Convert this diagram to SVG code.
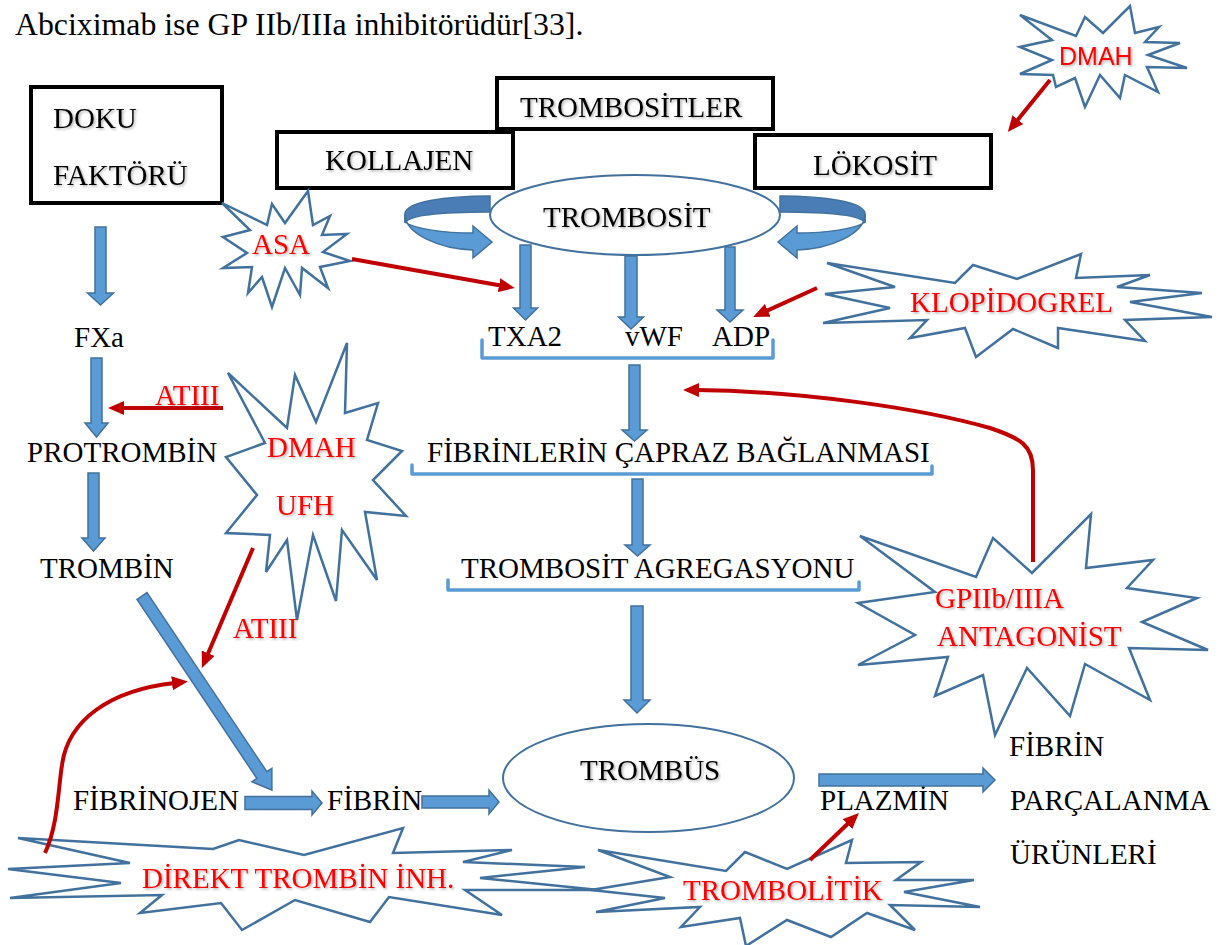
<svg xmlns="http://www.w3.org/2000/svg" width="1224" height="945" viewBox="0 0 1224 945">
  <style>
    .box { fill: #ffffff; stroke: #000000; stroke-width: 4; }
    .oval { fill: #ffffff; stroke: #41719C; stroke-width: 2; }
    .star { fill: #ffffff; stroke: #41719C; stroke-width: 2.5; stroke-linejoin: miter; }
    .blk { fill: #5B9BD5; stroke: #41719C; stroke-width: 1.5; stroke-linejoin: miter; }
    .blk-dark { fill: #4A7DB5; stroke: #41719C; stroke-width: 1.5; }
    .brace { fill: none; stroke: #5B9BD5; stroke-width: 3.5; stroke-linejoin: round; stroke-linecap: round; }
    .inh { fill: none; stroke: #C00000; stroke-width: 4; marker-end: url(#red-head); }
    .t { font-family: "Liberation Serif", "Times New Roman", serif; font-size: 29px; fill: #000000; }
    .r { font-family: "Liberation Serif", "Times New Roman", serif; font-size: 29px; fill: #FF0000; }
    .rs { font-family: "Liberation Sans", Arial, sans-serif; font-size: 25px; fill: #FF0000; }
    .sh { filter: url(#soft-shadow); }
  </style>
  <defs>
    <marker id="red-head" viewBox="0 0 16 14" refX="3" refY="7" markerWidth="16" markerHeight="14" markerUnits="userSpaceOnUse" orient="auto">
      <path d="M0,0 L16,7 L0,14 Z" fill="#C00000"/>
    </marker>
    <filter id="soft-shadow" x="-10%" y="-30%" width="120%" height="160%">
      <feDropShadow dx="1.5" dy="1.5" stdDeviation="1" flood-color="#000000" flood-opacity="0.3"/>
    </filter>
  </defs>

  <rect width="1224" height="945" fill="#ffffff"/>

  <text class="t" x="15" y="35" style="font-size:31.8px">Abciximab ise GP IIb/IIIa inhibitörüdür[33].</text>

  <!-- source boxes -->
  <g id="doku-faktoru">
    <rect class="box" x="31" y="87" width="191" height="116"/>
    <text class="t sh" x="53" y="128">DOKU</text>
    <text class="t sh" x="53" y="185">FAKTÖRÜ</text>
  </g>
  <g id="trombositler">
    <rect class="box" x="497" y="78" width="276" height="51"/>
    <text class="t sh" x="520" y="117">TROMBOSİTLER</text>
  </g>
  <g id="kollajen">
    <rect class="box" x="277" y="132" width="236" height="56"/>
    <text class="t sh" x="325" y="170">KOLLAJEN</text>
  </g>
  <g id="lokosit">
    <rect class="box" x="755" y="135" width="236" height="53"/>
    <text class="t sh" x="813" y="175">LÖKOSİT</text>
  </g>

  <!-- recycling ribbon arrows beside the platelet -->
  <g id="trombosit-loops">
    <g id="loop-left">
      <path class="blk-dark" d="M490,196 C445,196 405,202 405,214 L405,223 C409,214 447,212 490,212 Z"/>
      <path class="blk" d="M405,214 C405,234 440,249 473,250 L473,258 L492,242 L473,226 L473,233 C444,233 414,229 405,222 Z"/>
    </g>
    <g id="loop-right" transform="matrix(-1,0,0,1,1270,0)">
      <path class="blk-dark" d="M490,196 C445,196 405,202 405,214 L405,223 C409,214 447,212 490,212 Z"/>
      <path class="blk" d="M405,214 C405,234 440,249 473,250 L473,258 L492,242 L473,226 L473,233 C444,233 414,229 405,222 Z"/>
    </g>
  </g>

  <g id="trombosit">
    <ellipse class="oval" cx="635" cy="215" rx="145" ry="40"/>
    <text class="t sh" x="543" y="227">TROMBOSİT</text>
  </g>

  <g id="mediators">
    <text class="t" x="488" y="346">TXA2</text>
    <text class="t" x="625" y="346">vWF</text>
    <text class="t" x="712" y="346">ADP</text>
    <path class="brace" d="M482,340 L482,358 L773,358 L773,340"/>
  </g>

  <g id="capraz-baglanma">
    <text class="t" x="427" y="462">FİBRİNLERİN ÇAPRAZ BAĞLANMASI</text>
    <path class="brace" d="M412,465 L412,474 L932,474 L932,466"/>
  </g>

  <g id="agregasyon">
    <text class="t" x="461" y="578">TROMBOSİT AGREGASYONU</text>
    <path class="brace" d="M448,580 L448,590 L859,590 L859,582"/>
  </g>

  <!-- coagulation cascade -->
  <g id="fxa"><text class="t" x="74" y="347">FXa</text></g>
  <g id="protrombin"><text class="t" x="27" y="462">PROTROMBİN</text></g>
  <g id="trombin"><text class="t" x="40" y="578">TROMBİN</text></g>
  <g id="fibrinojen"><text class="t" x="73" y="810">FİBRİNOJEN</text></g>
  <g id="fibrin"><text class="t" x="327" y="810">FİBRİN</text></g>

  <g id="trombus">
    <ellipse class="oval" cx="648.5" cy="778" rx="145.5" ry="54"/>
    <text class="t sh" x="580" y="780">TROMBÜS</text>
  </g>

  <g id="plazmin"><text class="t" x="820" y="810">PLAZMİN</text></g>
  <g id="yikim-urunleri">
    <text class="t" x="1009" y="756">FİBRİN</text>
    <text class="t" x="1010" y="810">PARÇALANMA</text>
    <text class="t" x="1010" y="864">ÜRÜNLERİ</text>
  </g>

  <!-- drug bursts -->
  <g id="dmah-top">
    <polygon class="star" points="1020,15 1076,36 1085,17 1103,33 1130,6 1135,33 1159,27 1145,42 1180,43 1148,55 1187,68 1147,67 1158,92 1125,75 1120,98 1100,75 1085,107 1075,78 1056,87 1053,75 1020,74 1052,60 1020,47 1052,40"/>
    <text class="rs sh" x="1059" y="65">DMAH</text>
  </g>

  <g id="asa">
    <polygon class="star" points="222,203 267,225 272,204 285,223 308,191 313,225 330,216 322,235 347,234 323,252 350,261 320,267 328,288 302,268 300,295 285,268 272,307 262,277 248,293 252,267 223,268 247,253 223,237 250,230"/>
    <text class="r sh" x="252" y="254">ASA</text>
  </g>

  <g id="klopidogrel">
    <polygon class="star" points="827,263 955,283 973,265 1017,279 1081,254 1076,278 1150,275 1117,287 1202,293 1130,302 1212,317 1125,320 1145,341 1058,328 1058,348 1013,329 976,357 965,328 910,338 927,320 823,323 890,308 825,294 895,287"/>
    <text class="r sh" x="910" y="312">KLOPİDOGREL</text>
  </g>

  <g id="dmah-ufh">
    <polygon class="star" points="347,343 345,413 378,403 367,440 402,451 373,480 406,516 365,512 377,580 342,530 336,601 313,535 297,620 287,540 266,572 270,535 226,533 257,495 226,457 265,443 228,373 287,428 295,375 316,422"/>
    <text class="r sh" x="267" y="457">DMAH</text>
    <text class="r sh" x="276" y="515">UFH</text>
  </g>

  <g id="gp2b3a">
    <polygon class="star" points="860,536 976,577 993,538 1032,573 1091,514 1086,568 1153,560 1127,588 1197,598 1142,622 1208,650 1129,648 1150,700 1085,664 1070,716 1027,668 995,735 983,675 935,696 948,657 858,665 915,635 858,603 935,592"/>
    <text class="r sh" x="935" y="608">GPIIb/IIIA</text>
    <text class="r sh" x="937" y="646">ANTAGONİST</text>
  </g>

  <g id="direkt-trombin">
    <polygon class="star" points="18,838 213,849 239,840 304,855 403,828 393,853 512,850 463,862 585,867 480,878 599,890 465,890 502,915 389,897 370,922 295,900 242,930 221,903 140,913 162,895 10,898 121,883 8,869 130,863"/>
    <text class="r sh" x="142" y="888">DİREKT TROMBİN İNH.</text>
  </g>

  <g id="trombolitik">
    <polygon class="star" points="598,850 726,871 745,852 787,869 852,840 846,863 921,862 896,880 974,880 904,892 980,907 890,905 915,930 867,913 831,937 787,920 746,946 740,918 681,927 700,907 596,912 665,898 591,890 670,877"/>
    <text class="r sh" x="683" y="900">TROMBOLİTİK</text>
  </g>

  <!-- red labels on inhibitor arrows -->
  <text class="r sh" x="155" y="405">ATIII</text>
  <text class="r sh" x="233" y="638">ATIII</text>

  <!-- connectors -->
  <g id="connectors">
    <!-- pathway block arrows -->
    <path class="blk" d="M95,227 L106,227 L106,293 L113.5,293 L100.5,305 L87.5,293 L95,293 Z"/>
    <path class="blk" d="M91,358 L102,358 L102,423 L108,423 L96.5,437 L85,423 L91,423 Z"/>
    <path class="blk" d="M88,473 L99,473 L99,538 L105,538 L93.5,551 L82,538 L88,538 Z"/>
    <path class="blk" d="M520,245 L531,245 L531,308 L537.5,308 L525.5,320 L513.5,308 L520,308 Z"/>
    <path class="blk" d="M625,256 L637,256 L637,317 L643.5,317 L631,329 L618.5,317 L625,317 Z"/>
    <path class="blk" d="M725,247 L735,247 L735,310 L743,310 L730,322 L717,310 L725,310 Z"/>
    <path class="blk" d="M629,365 L640,365 L640,430 L647,430 L634.5,441 L622,430 L629,430 Z"/>
    <path class="blk" d="M632,479 L643,479 L643,545 L650,545 L637.5,556 L625,545 L632,545 Z"/>
    <path class="blk" d="M631,606 L643,606 L643,700 L650,700 L637,713 L624,700 L631,700 Z"/>
    <path class="blk" transform="translate(142,596) rotate(56.2)" d="M0,-6 L215.5,-6 L215.5,-12 L233.5,0 L215.5,12 L215.5,6 L0,6 Z"/>
    <path class="blk" d="M245,796.5 L312,796.5 L312,791 L322,803 L312,815 L312,809.5 L245,809.5 Z"/>
    <path class="blk" d="M422,796 L489,796 L489,790 L499,802 L489,814 L489,808 L422,808 Z"/>
    <path class="blk" d="M819,774 L983,774 L983,768 L995,780 L983,792 L983,786 L819,786 Z"/>

    <!-- drug actions -->
    <path class="inh" d="M223,408 L121,408"/>
    <path class="inh" d="M253,548 L207,656"/>
    <path class="inh" d="M352,259 L502,285.7"/>
    <path class="inh" d="M817,288 L765,311.6"/>
    <path class="inh" d="M1050,80 L1016,122"/>
    <path class="inh" d="M810,860 L849.6,822"/>
    <path class="inh" d="M45,853 C58,825 58,790 62,765 C68,720 110,690 175,683"/>
    <path class="inh" d="M1033,562 L1033,470 C1033,445 1020,438 990,428 C920,408 800,391 696,390"/>
  </g>
</svg>
